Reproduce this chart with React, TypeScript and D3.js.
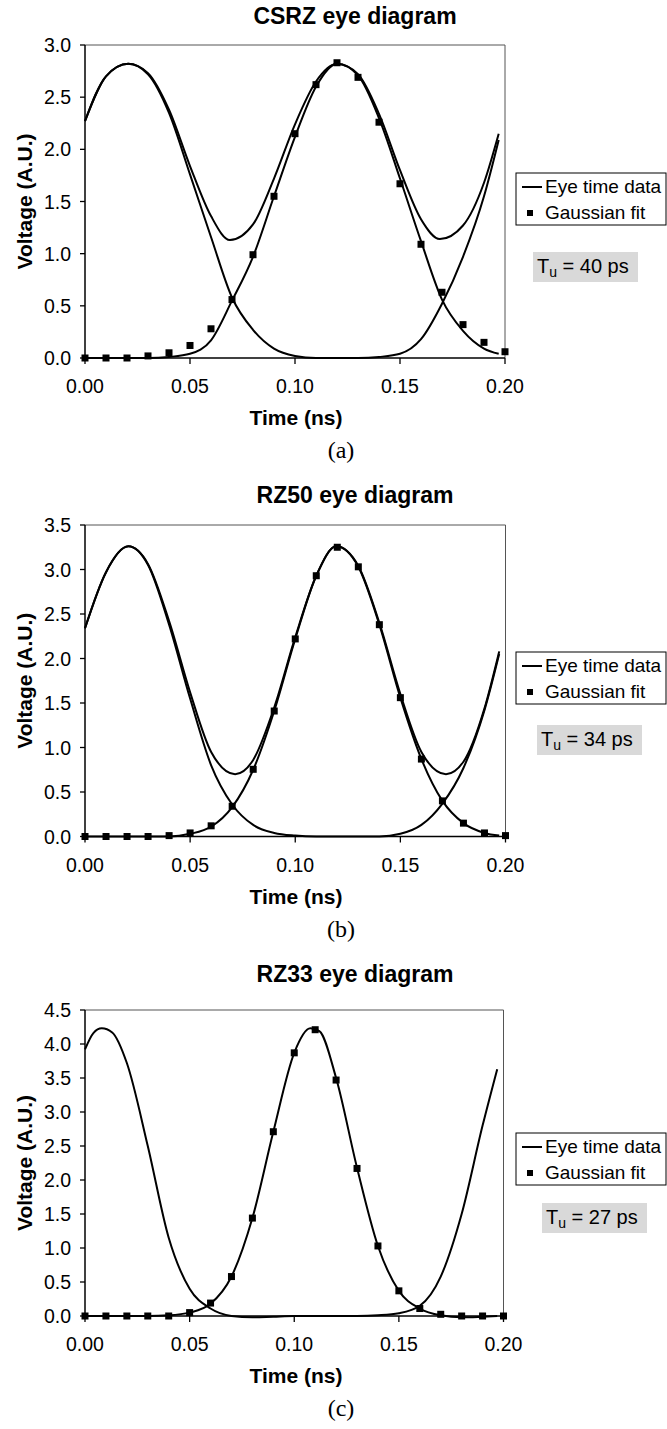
import React from 'react'
import * as d3 from 'd3'

type Pt = [number, number]

// time axis (ns)
const timeTicks = [0, 0.05, 0.1, 0.15, 0.2]
const fitTimes = [0, 0.01, 0.02, 0.03, 0.04, 0.05, 0.06, 0.07, 0.08, 0.09, 0.1, 0.11, 0.12, 0.13, 0.14, 0.15, 0.16, 0.17, 0.18, 0.19, 0.2]

// CSRZ
const csrzTicks = [0, 0.5, 1, 1.5, 2, 2.5, 3]
const csrzFit = [0, 0, 0, 0.02, 0.05, 0.12, 0.28, 0.56, 0.99, 1.55, 2.15, 2.62, 2.83, 2.69, 2.26, 1.67, 1.09, 0.63, 0.32, 0.15, 0.06]
const csrzUpper: Pt[] = [[0, 2.27], [0.01, 2.7], [0.0206, 2.82], [0.03, 2.73], [0.04, 2.38], [0.05, 1.84], [0.06, 1.36], [0.069, 1.13], [0.08, 1.28], [0.09, 1.72], [0.1, 2.24], [0.11, 2.65], [0.12, 2.82], [0.13, 2.72], [0.14, 2.34], [0.15, 1.8], [0.16, 1.33], [0.169, 1.14], [0.18, 1.27], [0.19, 1.68], [0.197, 2.15]]
const csrzOuter: Pt[] = [[0, 2.27], [0.01, 2.7], [0.0206, 2.82], [0.03, 2.72], [0.04, 2.35], [0.05, 1.76], [0.06, 1.16], [0.07, 0.58], [0.08, 0.27], [0.09, 0.09], [0.1, 0.02], [0.11, 0], [0.12, 0], [0.13, 0], [0.14, 0.01], [0.15, 0.04], [0.16, 0.18], [0.17, 0.52], [0.18, 0.97], [0.19, 1.55], [0.197, 2.09]]
const csrzMid: Pt[] = [[0, 0], [0.01, 0], [0.02, 0], [0.03, 0], [0.04, 0.01], [0.05, 0.04], [0.06, 0.17], [0.07, 0.55], [0.08, 0.97], [0.09, 1.55], [0.1, 2.12], [0.11, 2.6], [0.12, 2.82], [0.13, 2.71], [0.14, 2.3], [0.15, 1.72], [0.16, 1.12], [0.17, 0.56], [0.18, 0.26], [0.19, 0.09], [0.197, 0.04]]

// RZ50
const rz50Ticks = [0, 0.5, 1, 1.5, 2, 2.5, 3, 3.5]
const rz50Fit = [0, 0, 0, 0, 0.01, 0.04, 0.12, 0.34, 0.755, 1.41, 2.22, 2.93, 3.25, 3.03, 2.38, 1.56, 0.87, 0.4, 0.15, 0.04, 0.01]
const rz50Upper: Pt[] = [[0, 2.34], [0.01, 2.97], [0.0206, 3.26], [0.03, 3.06], [0.04, 2.42], [0.05, 1.62], [0.06, 0.95], [0.0714, 0.7], [0.08, 0.86], [0.09, 1.45], [0.1, 2.24], [0.11, 2.93], [0.1195, 3.26], [0.13, 3.04], [0.14, 2.4], [0.15, 1.6], [0.16, 0.95], [0.1717, 0.7], [0.18, 0.84], [0.19, 1.44], [0.197, 2.08]]
const rz50Outer: Pt[] = [[0, 2.34], [0.01, 2.97], [0.0206, 3.26], [0.03, 3.05], [0.04, 2.38], [0.05, 1.55], [0.06, 0.8], [0.07, 0.36], [0.08, 0.13], [0.09, 0.04], [0.1, 0.01], [0.11, 0], [0.12, 0], [0.13, 0], [0.14, 0], [0.15, 0.03], [0.16, 0.13], [0.17, 0.37], [0.18, 0.77], [0.19, 1.42], [0.197, 2.05]]
const rz50Mid: Pt[] = [[0, 0], [0.01, 0], [0.02, 0], [0.03, 0], [0.04, 0], [0.05, 0.03], [0.06, 0.11], [0.07, 0.33], [0.08, 0.75], [0.09, 1.41], [0.1, 2.22], [0.11, 2.93], [0.1195, 3.26], [0.13, 3.03], [0.14, 2.38], [0.15, 1.56], [0.16, 0.87], [0.17, 0.4], [0.18, 0.15], [0.19, 0.04], [0.197, 0.01]]

// RZ33
const rz33Ticks = [0, 0.5, 1, 1.5, 2, 2.5, 3, 3.5, 4, 4.5]
const rz33Fit = [0, 0, 0, 0, 0, 0.05, 0.19, 0.58, 1.44, 2.71, 3.87, 4.21, 3.47, 2.17, 1.03, 0.37, 0.11, 0.025, 0, 0, 0]
const rz33Outer: Pt[] = [[0, 3.92], [0.004, 4.16], [0.008, 4.23], [0.013, 4.17], [0.02, 3.72], [0.03, 2.5], [0.04, 1.15], [0.05, 0.4], [0.06, 0.11], [0.07, 0], [0.08, -0.02], [0.09, -0.01], [0.1, 0], [0.11, 0], [0.12, 0], [0.13, 0], [0.14, 0.01], [0.15, 0.04], [0.16, 0.15], [0.17, 0.58], [0.18, 1.5], [0.19, 2.8], [0.197, 3.63]]
const rz33Mid: Pt[] = [[0, 0], [0.01, 0], [0.02, 0], [0.03, 0], [0.04, 0.01], [0.05, 0.05], [0.06, 0.18], [0.07, 0.58], [0.08, 1.44], [0.09, 2.71], [0.1, 3.87], [0.1077, 4.23], [0.112, 4.19], [0.12, 3.5], [0.13, 2.18], [0.14, 1.03], [0.15, 0.37], [0.16, 0.11], [0.17, 0.01], [0.18, -0.02], [0.19, -0.01], [0.197, 0]]

const panels = [
  { title: 'CSRZ eye diagram', letter: '(a)', tu: '40', yTicks: csrzTicks, fit: csrzFit, traces: [csrzUpper, csrzOuter, csrzMid], oy: 0, top: 45, bottom: 358, right: 505, legY: 173, tuX: 533, tuY: 252 },
  { title: 'RZ50 eye diagram', letter: '(b)', tu: '34', yTicks: rz50Ticks, fit: rz50Fit, traces: [rz50Upper, rz50Outer, rz50Mid], oy: 479, top: 46, bottom: 357.5, right: 505.5, legY: 173, tuX: 537, tuY: 246 },
  { title: 'RZ33 eye diagram', letter: '(c)', tu: '27', yTicks: rz33Ticks, fit: rz33Fit, traces: [rz33Outer, rz33Mid], oy: 958, top: 52, bottom: 358, right: 503.5, legY: 175, tuX: 542, tuY: 245 },
]

const sans = '"Liberation Sans", Arial, Helvetica, sans-serif'
const serif = '"Liberation Serif", "Times New Roman", serif'

function Panel({ p }: { p: typeof panels[number] }) {
  const left = 85
  const top = p.oy + p.top
  const bottom = p.oy + p.bottom
  const yMax = p.yTicks[p.yTicks.length - 1]
  const x = d3.scaleLinear().domain([0, 0.2]).range([left, p.right])
  const y = d3.scaleLinear().domain([0, yMax]).range([bottom, top])
  const line = d3.line<Pt>().x(d => x(d[0])).y(d => y(d[1])).curve(d3.curveMonotoneX)
  const fx = d3.format('.2f')
  const fy = d3.format('.1f')
  const ly = p.oy + p.legY
  const sq = 7

  return (
    <g>
      <text x={355} y={p.oy + 24} textAnchor="middle" fontFamily={sans} fontWeight="bold" fontSize={23}>{p.title}</text>

      <line x1={left} x2={p.right} y1={top} y2={top} stroke="#555" strokeWidth={1} />
      <line x1={p.right} x2={p.right} y1={top} y2={bottom} stroke="#555" strokeWidth={1} />
      <line x1={left} x2={left} y1={top} y2={bottom} stroke="#000" strokeWidth={1.5} />

      {p.yTicks.map(t => (
        <g key={'y' + t}>
          <line x1={left - 5} x2={left} y1={y(t)} y2={y(t)} stroke="#000" strokeWidth={1.3} />
          <text x={71} y={y(t)} dy="0.36em" textAnchor="end" fontFamily={sans} fontSize={19.5}>{fy(t)}</text>
        </g>
      ))}
      {timeTicks.map(t => (
        <g key={'x' + t}>
          <line x1={x(t)} x2={x(t)} y1={bottom} y2={bottom + 6} stroke="#000" strokeWidth={1.3} />
          <text x={x(t)} y={bottom + 35} textAnchor="middle" fontFamily={sans} fontSize={19.5}>{fx(t)}</text>
        </g>
      ))}

      {p.traces.map((tr, i) => (
        <path key={i} d={line(tr) || ''} fill="none" stroke="#000" strokeWidth={2} />
      ))}
      <line x1={left} x2={p.right} y1={bottom} y2={bottom} stroke="#000" strokeWidth={1.5} />

      {p.fit.map((v, i) => (
        <rect key={i} x={x(fitTimes[i]) - sq / 2} y={y(v) - sq / 2} width={sq} height={sq} fill="#000" />
      ))}

      <text x={296} y={bottom + 67} textAnchor="middle" fontFamily={sans} fontWeight="bold" fontSize={21}>Time (ns)</text>
      <text transform={`translate(32,${(top + bottom) / 2}) rotate(-90)`} textAnchor="middle" fontFamily={sans} fontWeight="bold" fontSize={21}>Voltage (A.U.)</text>

      <rect x={516} y={ly} width={150} height={52} fill="#fff" stroke="#000" strokeWidth={1} />
      <line x1={522} x2={542} y1={ly + 14} y2={ly + 14} stroke="#000" strokeWidth={2} />
      <text x={545} y={ly + 20} fontFamily={sans} fontSize={19}>Eye time data</text>
      <rect x={530 - 3} y={ly + 40 - 3} width={6} height={6} fill="#000" />
      <text x={545} y={ly + 46} fontFamily={sans} fontSize={19}>Gaussian fit</text>

      <rect x={p.tuX} y={p.oy + p.tuY} width={105} height={30} fill="#d9d9d9" />
      <text x={p.tuX + 4} y={p.oy + p.tuY + 21} fontFamily={sans} fontSize={20}>
        T<tspan fontSize={14} dy={4}>u</tspan><tspan dy={-4}> = {p.tu} ps</tspan>
      </text>

      <text x={341} y={p.oy + 458} textAnchor="middle" fontFamily={serif} fontSize={24}>{p.letter}</text>
    </g>
  )
}

export default function App() {
  return (
    <svg width={667} height={1429} style={{ position: 'absolute', left: 0, top: 0, background: '#fff' }}>
      {panels.map(p => <Panel key={p.letter} p={p} />)}
    </svg>
  )
}
